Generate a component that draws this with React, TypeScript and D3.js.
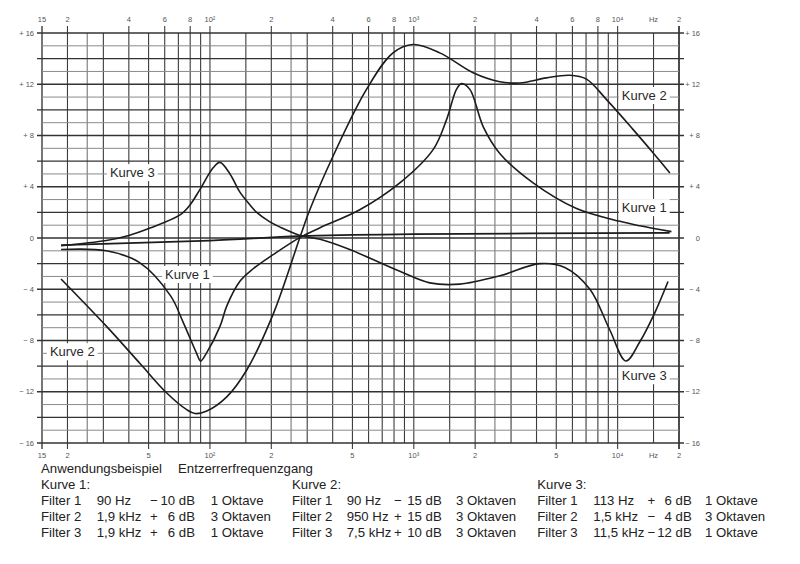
import { useEffect, useRef } from 'react'
import * as d3 from 'd3'

// curve values (Hz, dB)
const kurve1Freq = [18.6, 31, 45, 64, 74, 86, 90, 96, 112, 121, 140, 163, 204, 277, 347, 543, 854, 1244, 1445, 1619, 1713, 1884, 2189, 2642, 3850, 6285, 10260, 12850, 18370]
const kurve1Db = [-0.9, -1.0, -1.9, -4.5, -6.6, -9.0, -9.6, -9.0, -6.9, -5.3, -3.4, -2.4, -1.3, 0.05, 0.8, 2.2, 4.3, 6.9, 9.2, 11.6, 12.05, 11.6, 8.7, 6.6, 4.3, 2.3, 1.3, 0.95, 0.5]

const kurve2Freq = [18.6, 31.1, 45.4, 61.4, 76.9, 84.5, 96.5, 120.9, 151.5, 204.7, 277, 309, 402, 586, 791, 993, 1342, 1954, 2642, 3312, 4476, 5823, 7030, 8824, 11920, 14940, 18040]
const kurve2Db = [-3.2, -6.9, -9.8, -12.1, -13.4, -13.7, -13.5, -12.4, -10.3, -5.9, 0.1, 2.2, 6.4, 11.6, 14.45, 15.1, 14.45, 12.9, 12.2, 12.1, 12.5, 12.7, 12.4, 10.8, 8.46, 6.64, 5.08]

const kurve3Freq = [18.6, 31, 40, 50.8, 71.3, 80, 89.4, 103.9, 112, 125.4, 140, 155, 169.6, 195, 220.8, 277, 347, 485, 854, 1198, 1682, 2642, 4150, 5507, 7310, 9165, 10980, 12850, 15250, 17670]
const kurve3Db = [-0.6, -0.2, 0.2, 0.78, 1.8, 2.6, 3.8, 5.5, 5.9, 5.0, 3.6, 2.7, 2.0, 1.3, 0.85, 0.2, -0.1, -0.9, -2.6, -3.5, -3.6, -2.95, -2.0, -2.3, -4.0, -7.2, -9.6, -8.1, -5.8, -3.4]

const geradeFreq = [18.6, 100, 277, 1000, 18000]
const geradeDb = [-0.55, -0.2, 0.15, 0.3, 0.4]

// labels on the curves (anchor Hz, dB)
const labelText = ['Kurve 3', 'Kurve 1', 'Kurve 2', 'Kurve 2', 'Kurve 1', 'Kurve 3']
const labelFreq = [32.3, 60.2, 16.4, 10490, 10490, 10490]
const labelDb = [4.75, -3.2, -9.23, 10.77, 2.02, -11.1]

// axis ticks
const gridMult = [1, 1.5, 2, 2.5, 3, 4, 5, 6, 7, 8, 9]
const topTickFreq = [15, 20, 40, 60, 80, 100, 200, 400, 600, 800, 1000, 2000, 4000, 6000, 8000, 10000, 15000, 20000]
const topTickText = ['15', '2', '4', '6', '8', '10²', '2', '4', '6', '8', '10³', '2', '4', '6', '8', '10⁴', 'Hz', '2']
const bottomTickFreq = [15, 20, 50, 100, 200, 500, 1000, 2000, 5000, 10000, 15000, 20000]
const bottomTickText = ['15', '2', '5', '10²', '2', '5', '10³', '2', '5', '10⁴', 'Hz', '2']
const dbTicks = [16, 12, 8, 4, 0, -4, -8, -12, -16]
const dbTickText = ['+ 16', '+ 12', '+ 8', '+ 4', '0', '− 4', '− 8', '− 12', '− 16']

// table under the chart
const tableTitle = ['Anwendungsbeispiel', 'Entzerrerfrequenzgang']
const tableHeads = ['Kurve 1:', 'Kurve 2:', 'Kurve 3:']
const filterNames = ['Filter 1', 'Filter 2', 'Filter 3']
const kurve1Rows = [['90 Hz', '−', '10 dB', '1 Oktave'], ['1,9 kHz', '+', '6 dB', '3 Oktaven'], ['1,9 kHz', '+', '6 dB', '1 Oktave']]
const kurve2Rows = [['90 Hz', '−', '15 dB', '3 Oktaven'], ['950 Hz', '+', '15 dB', '3 Oktaven'], ['7,5 kHz', '+', '10 dB', '3 Oktaven']]
const kurve3Rows = [['113 Hz', '+', '6 dB', '1 Oktave'], ['1,5 kHz', '−', '4 dB', '3 Oktaven'], ['11,5 kHz', '−', '12 dB', '1 Oktave']]

const App = () => {
	const svgRef = useRef(null)

	useEffect(() => {
		const width = 800
		const height = 564
		const svg = d3.select(svgRef.current)
		svg.selectAll('*').remove()
		svg.attr('width', width).attr('height', height)

		const x = d3.scaleLog().domain([15, 20000]).range([42, 679])
		const y = d3.scaleLinear().domain([-16, 16]).range([443, 33])
		const font = '"Liberation Sans", Arial, Helvetica, sans-serif'

		svg.append('rect').attr('width', width).attr('height', height).attr('fill', '#fff')

		// vertical grid
		const gridFreq = []
		;[10, 100, 1000, 10000].forEach((dec) => {
			gridMult.forEach((m) => {
				const f = dec * m
				if (f >= 15 && f <= 20000) gridFreq.push(f)
			})
		})
		gridFreq.push(20000)

		const grid = svg.append('g')
		grid
			.selectAll('line.v')
			.data(gridFreq)
			.join('line')
			.attr('x1', (d) => x(d))
			.attr('x2', (d) => x(d))
			.attr('y1', (d) => (topTickFreq.includes(d) && d !== 15000 ? y(16) - 7 : y(16)))
			.attr('y2', (d) => (bottomTickFreq.includes(d) && d !== 15000 ? y(-16) + 6 : y(-16)))
			.attr('stroke', (d) => (d === 25 || d === 250 || d === 2500 ? '#777' : '#3c3c3c'))
			.attr('stroke-width', (d) => (d === 15 || d === 20000 ? 1.4 : 1.1))

		// horizontal grid
		const dbLines = d3.range(-16, 17)
		grid
			.selectAll('line.h')
			.data(dbLines)
			.join('line')
			.attr('x1', (d) => (d % 2 === 0 ? x(15) - 5 : x(15)))
			.attr('x2', (d) => (d % 2 === 0 ? x(20000) + 5 : x(20000)))
			.attr('y1', (d) => y(d))
			.attr('y2', (d) => y(d))
			.attr('stroke', (d) => (d % 2 === 0 ? '#333' : '#8a8a8a'))
			.attr('stroke-width', (d) => (d % 2 === 0 ? 1.3 : 1))

		// tick labels
		const tickStyle = (sel) =>
			sel.attr('font-family', font).attr('font-size', 7.5).attr('fill', '#555')

		svg
			.append('g')
			.selectAll('text')
			.data(topTickFreq)
			.join('text')
			.attr('x', (d) => x(d))
			.attr('y', 22)
			.attr('text-anchor', 'middle')
			.text((d, i) => topTickText[i])
			.call(tickStyle)

		svg
			.append('g')
			.selectAll('text')
			.data(bottomTickFreq)
			.join('text')
			.attr('x', (d) => x(d))
			.attr('y', 458)
			.attr('text-anchor', 'middle')
			.text((d, i) => bottomTickText[i])
			.call(tickStyle)

		svg
			.append('g')
			.selectAll('text')
			.data(dbTicks)
			.join('text')
			.attr('x', 34)
			.attr('y', (d) => y(d) + 2.5)
			.attr('text-anchor', 'end')
			.text((d, i) => dbTickText[i])
			.call(tickStyle)

		svg
			.append('g')
			.selectAll('text')
			.data(dbTicks)
			.join('text')
			.attr('x', 700)
			.attr('y', (d) => y(d) + 2.5)
			.attr('text-anchor', 'end')
			.text((d, i) => dbTickText[i])
			.call(tickStyle)

		// curves
		const line = d3
			.line()
			.x((d) => x(d[0]))
			.y((d) => y(d[1]))
			.curve(d3.curveCatmullRom.alpha(0.5))

		const series = [
			{ f: geradeFreq, v: geradeDb, w: 1.8 },
			{ f: kurve3Freq, v: kurve3Db, w: 1.6 },
			{ f: kurve1Freq, v: kurve1Db, w: 1.6 },
			{ f: kurve2Freq, v: kurve2Db, w: 1.6 },
		]

		svg
			.append('g')
			.selectAll('path')
			.data(series)
			.join('path')
			.attr('d', (s) => line(s.f.map((f, i) => [f, s.v[i]])))
			.attr('fill', 'none')
			.attr('stroke', '#1c1c1c')
			.attr('stroke-width', (s) => s.w)
			.attr('stroke-linejoin', 'round')

		// curve labels with white boxes
		const labels = svg.append('g')
		labelText.forEach((t, i) => {
			const g = labels.append('g')
			const txt = g
				.append('text')
				.attr('x', x(labelFreq[i]))
				.attr('y', y(labelDb[i]))
				.attr('font-family', font)
				.attr('font-size', 13)
				.attr('fill', '#2a2a2a')
				.text(t)
			const bb = txt.node().getBBox()
			g.insert('rect', 'text')
				.attr('x', bb.x - 3)
				.attr('y', bb.y - 1)
				.attr('width', bb.width + 6)
				.attr('height', bb.height + 2)
				.attr('fill', '#fff')
		})

		// table
		const table = svg
			.append('g')
			.attr('font-family', font)
			.attr('font-size', 13.2)
			.attr('fill', '#222')

		table.append('text').attr('x', 41).attr('y', 473).text(tableTitle[0])
		table.append('text').attr('x', 178).attr('y', 473).text(tableTitle[1])

		const colSets = [
			{ name: 41, freq: 96.7, sign: 150, val: 195, okt: 210.7, rows: kurve1Rows },
			{ name: 292, freq: 346.7, sign: 394, val: 441.7, okt: 456, rows: kurve2Rows },
			{ name: 537.3, freq: 593.3, sign: 647.5, val: 691.7, okt: 705, rows: kurve3Rows },
		]
		colSets.forEach((c, k) => {
			table.append('text').attr('x', c.name).attr('y', 488.5).text(tableHeads[k])
			c.rows.forEach((r, j) => {
				const yy = 504.5 + j * 16
				table.append('text').attr('x', c.name).attr('y', yy).text(filterNames[j])
				table.append('text').attr('x', c.freq).attr('y', yy).text(r[0])
				table.append('text').attr('x', c.sign).attr('y', yy).text(r[1])
				table.append('text').attr('x', c.val).attr('y', yy).attr('text-anchor', 'end').text(r[2])
				table.append('text').attr('x', c.okt).attr('y', yy).text(r[3])
			})
		})
	}, [])

	return <svg ref={svgRef} style={{ position: 'absolute', left: 0, top: 0, display: 'block' }}></svg>
}

export default App
